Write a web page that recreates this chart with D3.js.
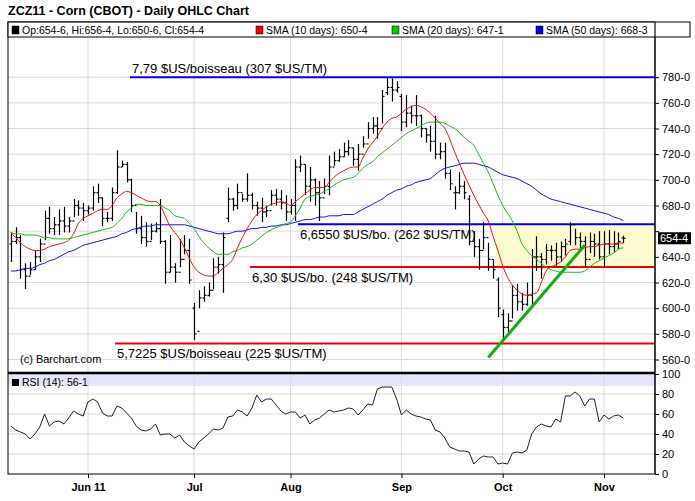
<!DOCTYPE html>
<html><head><meta charset="utf-8">
<script src="https://cdn.jsdelivr.net/npm/d3@7/dist/d3.min.js"></script>
<style>body{margin:0;background:#fff}text{font-family:"Liberation Sans",Arial,sans-serif}</style>
</head><body><svg id="c" width="695" height="501"></svg>
<script>
const highs=[659,663,657,635,636,645,654,676,679,671,677,679,671,685,684,682,680,695,697,686,675,694,723,715,714,701,675,672,667,666,667,685,653,657,635,654,657,654,604,614,617,620,639,640,659,694,686,697,689,705,690,683,686,680,692,693,692,688,685,716,719,712,710,701,699,701,719,722,724,729,731,725,728,734,745,749,749,770,780,779,777,767,766,758,766,751,740,742,750,729,729,708,695,706,699,688,660,654,667,651,638,624,599,596,618,619,612,620,646,656,643,650,649,651,652,654,667,662,659,656,659,658,660,660,661,660,659,656.5];
const lows=[636,650,623,615,626,630,636,653,658,657,657,659,659,671,672,668,673,676,682,664,667,668,689,710,698,675,658,650,648,653,659,650,619,628,620,632,642,619,575,600,605,609,615,627,612,667,676,677,683,683,677,672,667,671,680,680,677,668,673,668,706,688,683,680,668,689,688,711,714,718,719,711,707,725,732,736,732,744,766,761,768,738,741,744,742,733,729,722,716,716,701,692,677,689,685,649,640,630,646,629,623,593,574,580,592,598,598,602,601,629,623,634,637,633,636,641,649,649,645,633,643,640,638,632,642,643,646,650.75];
const closes=[652,655,630,625,630,640,650,670,662,665,668,664,668,680,678,676,678,690,686,670,670,690,710,712,700,680,662,655,652,660,662,652,628,632,628,638,645,622,580,608,610,614,632,634,655,685,680,690,685,688,680,678,675,676,688,685,682,675,680,710,712,695,700,690,686,695,710,715,718,722,725,716,720,728,740,742,740,765,772,770,772,745,752,750,750,740,735,730,720,722,705,697,690,695,690,652,648,645,655,638,630,600,585,590,610,605,603,610,640,640,638,645,645,640,648,650,665,655,652,638,652,650,640,650,648,650,652,654.5];
const opens=[650,652,655,630,625,630,640,650,670,662,665,668,664,668,680,678,676,678,690,686,670,670,690,710,712,700,680,662,655,652,660,662,652,628,632,628,638,645,600,582,608,610,614,632,634,670,685,680,690,685,688,680,678,675,676,688,685,682,675,680,710,712,695,700,690,686,695,710,715,718,722,725,716,720,728,740,742,740,768,772,770,765,745,752,750,750,740,735,730,720,722,705,690,690,695,685,652,648,645,655,638,622,595,585,590,610,605,603,610,640,640,638,645,645,640,648,652,665,655,652,638,652,650,640,650,648,650,654.75];
const sma10=[659,655,651,648,646,645,645,646,648,649,650,651,653,658,666,670,672,674,676,677,677,680,686,689,691,690,688,686,684,683,683,680,672,664,659,654,647,639,632,628,626,625,625,628,631,634,638,647,655,662,668,673,676,679,681,682,683,682,680,683,686,689,692,694,694,694,698,702,705,707,709,710,710,717,724,729,734,740,745,748,749,752,755,757,758,757,755,752,748,744,740,732,722,713,704,696,688,681,674,668,656,645,633,624,618,614,611,610,611,612,620,629,632,634,636,640,645,646,646,647,648,648,649,650,650,650,651,650.5];
const sma20=[659,658,658,657,657,657,656,655,655,654,654,654,654,655,656,657,658,659,660,661,662,663,666,670,675,678,681,681,680,680,680,680,678,676,672,671,670,666,662,656,651,647,644,642,642,642,644,645,647,648,650,653,656,659,661,663,664,666,667,672,678,685,687,688,689,691,693,696,698,700,701,702,705,709,712,714,718,721,724,727,730,733,736,738,740,742,744,745,745,745,744,742,740,737,733,730,727,720,713,706,697,688,680,674,668,660,650,645,641,638,635,632,630,629,628,628,628,628,628,629,632,635,637,639,641,643,646,647.1];
const sma50=[629,629,630,631,631,632,634,635,637,638,640,642,644,645,647,649,650,651,652,653,654,655,656,658,659,661,662,663,664,664,665,665,665,665,665,665,665,664,663,662,661,660,659,658,658,658,659,660,660,661,662,662,663,663,664,664,665,665,666,667,668,669,669,670,671,671,672,672,672,673,673,673,675,677,679,681,683,685,688,690,692,693,695,696,698,699,700,701,704,707,709,710,711,712,713,713,713,712,711,710,708,706,704,703,702,701,699,697,695,692,689,687,685,684,683,682,681,680,679,678,677,676,675,674,673,671,670,668.3];
const rsi=[48,44,42,40,35,40,47,60,48,52,53,50,56,63,60,58,72,75,72,61,58,58,68,66,61,56,48,44,43,45,50,39,40,40,36,39,32,28,25,32,36,40,45,44,46,57,58,64,62,58,66,79,72,75,75,69,63,60,62,62,56,59,50,54,56,60,64,62,63,64,66,65,59,64,70,69,85,87,87,87,75,59,64,60,58,57,55,54,44,42,36,27,25,23,23,22,10,15,18,17,17,10,11,10,21,22,21,24,40,47,50,48,47,55,52,78,78,82,78,68,75,75,52,59,55,58,59,56];
const monthLabels=["Jun 11","Jul","Aug","Sep","Oct","Nov"];
const monthIdx=[16,38,58,81,102,123];
const priceTicks=[560,580,600,620,640,660,680,700,720,740,760,780];
const rsiTicks=[0,20,40,60,80,100];
const levels=[{v:780,c:"#0000ee",x0:130,t:"7,79 $US/boisseau (307 $US/TM)"},{v:665.5,c:"#0000ee",x0:298,t:"6,6550 $US/bo. (262 $US/TM)"},{v:632,c:"#ee0000",x0:250,t:"6,30 $US/bo. (248 $US/TM)"},{v:572.5,c:"#ee0000",x0:115,t:"5,7225 $US/boisseau (225 $US/TM)"}];
const trend=[{i:99,v:561.5},{i:119,v:649}];
const zone={i0:100.5,hi:665.5,lo:632};
const lastPrice=654.5, lastLabel="654-4";

const svg=d3.select("#c");
const L=8,R=655,T=22,PB=373,RB=474;
const x=d3.scaleLinear().domain([16,123]).range([88,604]);
const y=d3.scaleLinear().domain([549.5,823]).range([PB,T]);
const yr=d3.scaleLinear().domain([0,100]).range([RB,PB+1]);
svg.append("text").attr("x",8).attr("y",15).attr("font-size",12.5).attr("font-weight","bold").text("ZCZ11 - Corn (CBOT) - Daily OHLC Chart");
svg.append("defs").append("clipPath").attr("id","cp").append("rect").attr("x",L).attr("y",T).attr("width",R-L).attr("height",PB-T);
const g=svg.append("g");
g.selectAll(".hg").data(priceTicks).join("line").attr("x1",L).attr("x2",R).attr("y1",d=>y(d)).attr("y2",d=>y(d)).attr("stroke","#dcdcdc");
g.append("rect").attr("x",L).attr("y",yr(100)).attr("width",R-L).attr("height",yr(88)-yr(100)).attr("fill","#e4e4fb");
g.selectAll(".rg").data([20,40,60,80]).join("line").attr("x1",L).attr("x2",R).attr("y1",d=>yr(d)).attr("y2",d=>yr(d)).attr("stroke","#dcdcdc");
g.selectAll(".vg").data(monthIdx).join("line").attr("x1",d=>x(d)).attr("x2",d=>x(d)).attr("y1",T).attr("y2",RB).attr("stroke","#dcdcdc");
g.append("rect").attr("x",x(zone.i0)).attr("y",y(zone.hi)).attr("width",R-x(zone.i0)).attr("height",y(zone.lo)-y(zone.hi)).attr("fill","#fcfcd0");
const pc=svg.append("g").attr("clip-path","url(#cp)");
levels.forEach(l=>{pc.append("line").attr("x1",l.x0).attr("x2",R).attr("y1",y(l.v)).attr("y2",y(l.v)).attr("stroke",l.c).attr("stroke-width",2);});
const idx=d3.range(closes.length);
const bars=pc.append("g").attr("stroke","#000").attr("stroke-width",1.2);
idx.forEach(i=>{const xi=Math.round(x(i))+0.5;
 bars.append("line").attr("x1",xi).attr("x2",xi).attr("y1",y(highs[i])).attr("y2",y(lows[i]));
 bars.append("line").attr("x1",xi-2).attr("x2",xi).attr("y1",y(opens[i])).attr("y2",y(opens[i]));
 bars.append("line").attr("x1",xi).attr("x2",xi+2).attr("y1",y(closes[i])).attr("y2",y(closes[i]));});
const ln=d3.line().x((d,i)=>x(i)).y(d=>y(d)).curve(d3.curveMonotoneX);
pc.append("path").attr("d",ln(sma50)).attr("fill","none").attr("stroke","#1010ee").attr("stroke-width",1);
pc.append("path").attr("d",ln(sma20)).attr("fill","none").attr("stroke","#10c010").attr("stroke-width",1);
pc.append("path").attr("d",ln(sma10)).attr("fill","none").attr("stroke","#ee1010").attr("stroke-width",1);
pc.append("line").attr("x1",x(trend[0].i)).attr("y1",y(trend[0].v)).attr("x2",x(trend[1].i)).attr("y2",y(trend[1].v)).attr("stroke","#10b010").attr("stroke-width",3);
levels.forEach(l=>{const up=l.v===780;svg.append("text").attr("x",l.x0+2).attr("y",y(l.v)+(up?-4:15)).attr("font-size",13).attr("font-family","DejaVu Sans").text(l.t);});
svg.append("text").attr("x",20).attr("y",363).attr("font-size",11).text("(c) Barchart.com");
const rl=d3.line().x((d,i)=>x(i)).y(d=>yr(d));
svg.append("path").attr("d",rl(rsi)).attr("fill","none").attr("stroke","#222").attr("stroke-width",1);
svg.append("rect").attr("x",12).attr("y",379).attr("width",7).attr("height",7).attr("fill","#000");
svg.append("text").attr("x",22).attr("y",386).attr("font-size",10.5).text("RSI (14): 56-1");
svg.append("rect").attr("x",L).attr("y",T).attr("width",R-L).attr("height",RB-T).attr("fill","none").attr("stroke","#000");
svg.append("line").attr("x1",L).attr("x2",R).attr("y1",PB).attr("y2",PB).attr("stroke","#000").attr("stroke-width",2.5);
const lg=svg.append("g");
lg.append("rect").attr("x",L).attr("y",T).attr("width",682).attr("height",15).attr("fill","#fff").attr("fill-opacity",0.7).attr("stroke","#000");
[{x:12,c:"#000",t:"Op:654-6, Hi:656-4, Lo:650-6, Cl:654-4"},{x:256,c:"#ee0000",t:"SMA (10 days): 650-4"},{x:392,c:"#00cc00",t:"SMA (20 days): 647-1"},{x:536,c:"#0000ee",t:"SMA (50 days): 668-3"}].forEach(d=>{
 lg.append("rect").attr("x",d.x).attr("y",T+4).attr("width",7).attr("height",8).attr("fill",d.c).attr("stroke","#000").attr("stroke-width",0.5);
 lg.append("text").attr("x",d.x+10).attr("y",T+12).attr("font-size",10.5).text(d.t);});
const shownTicks=priceTicks.filter(t=>Math.abs(t-lastPrice)>8);
const ay=svg.append("g").attr("transform",`translate(${R},0)`).call(d3.axisRight(y).tickValues(priceTicks).tickSize(4).tickFormat(d=>shownTicks.includes(d)?d+"-0":""));
const ar=svg.append("g").attr("transform",`translate(${R},0)`).call(d3.axisRight(yr).tickValues(rsiTicks).tickSize(4));
[ay,ar].forEach(a=>{a.select(".domain").remove();a.selectAll("text").attr("font-size",11).attr("font-family","Liberation Sans");});
svg.append("line").attr("x1",R).attr("x2",R).attr("y1",T).attr("y2",RB).attr("stroke","#000");
const ax=svg.append("g").attr("transform",`translate(0,${RB})`).call(d3.axisBottom(x).tickValues(monthIdx).tickSize(4).tickFormat((d,i)=>monthLabels[i]));
ax.select(".domain").remove();
ax.selectAll("text").attr("font-size",11).attr("font-weight","bold").attr("dy","0.9em");
svg.append("rect").attr("x",R+3).attr("y",y(lastPrice)-6).attr("width",33).attr("height",12).attr("fill","#000");
svg.append("text").attr("x",R+5).attr("y",y(lastPrice)+4).attr("font-size",11).attr("fill","#fff").text(lastLabel);
</script></body></html>
